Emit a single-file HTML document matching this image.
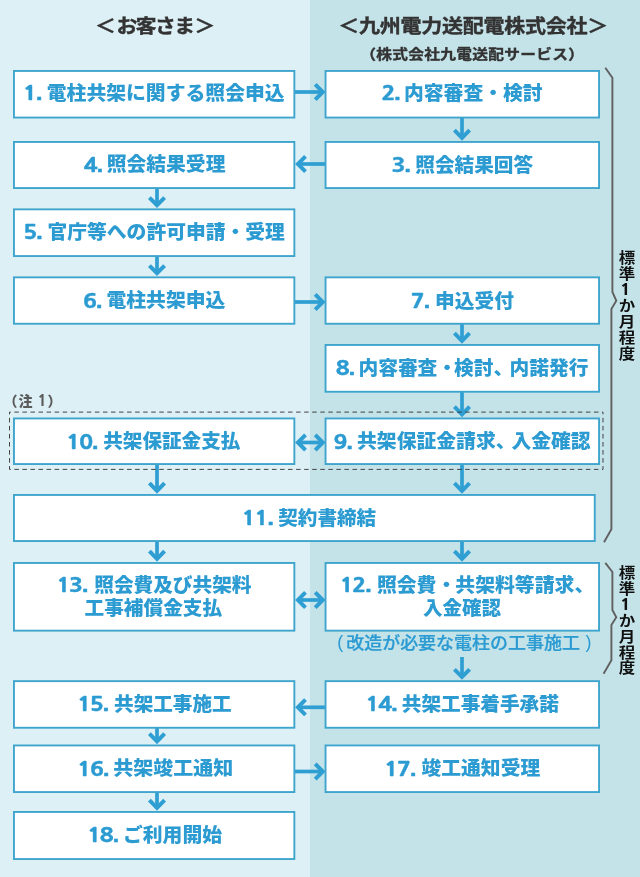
<!DOCTYPE html>
<html lang="ja">
<head>
<meta charset="utf-8">
<title>電柱共架の手続きの流れ</title>
<style>
html,body{margin:0;padding:0;background:#ddf0f6;}
body{width:640px;height:877px;overflow:hidden;}
svg{display:block;will-change:transform;}
svg text{font-family:"Liberation Sans","Noto Sans CJK JP",sans-serif;}
svg .n{font-family:"NanumGothic","Liberation Sans",sans-serif;}
</style>
</head>
<body>
<svg width="640" height="877" viewBox="0 0 640 877">
<rect x="0" y="0" width="640" height="877" fill="#ddf0f6"/>
<rect x="310" y="0" width="330" height="877" fill="#c4e3e9"/>
<text transform="translate(154.4,32.7) scale(1.095,1)" text-anchor="middle" fill="#333333" stroke="#333333" font-size="19" font-weight="700" stroke-width="0.4" letter-spacing="-1.43"><tspan letter-spacing="0.55">＜</tspan>お客さ<tspan letter-spacing="-0.4">ま</tspan>＞</text>
<text transform="translate(473.2,32.7) scale(1.105,1)" text-anchor="middle" fill="#333333" stroke="#333333" font-size="19" font-weight="700" stroke-width="0.4" letter-spacing="-0.22">＜九州電力送配電株式会社＞</text>
<text transform="translate(472.2,58.6) scale(1.125,1)" text-anchor="middle" fill="#333333" stroke="#333333" font-size="14" font-weight="700" stroke-width="0.35" letter-spacing="0.23">（株式会社九電送配サービス）</text>
<line x1="294.3" y1="92" x2="322.8" y2="92" stroke="#2f9fd3" stroke-width="3.7"/>
<polyline points="315.2,84.4 322.8,92 315.2,99.6" fill="none" stroke="#2f9fd3" stroke-width="4.0" stroke-linejoin="miter"/>
<line x1="462" y1="117.5" x2="462" y2="137.8" stroke="#2f9fd3" stroke-width="3.7"/>
<polyline points="454.4,130.2 462,137.8 469.6,130.2" fill="none" stroke="#2f9fd3" stroke-width="4.0" stroke-linejoin="miter"/>
<line x1="297.9" y1="164" x2="326.4" y2="164" stroke="#2f9fd3" stroke-width="3.7"/>
<polyline points="305.5,156.4 297.9,164 305.5,171.6" fill="none" stroke="#2f9fd3" stroke-width="4.0" stroke-linejoin="miter"/>
<line x1="157" y1="188" x2="157" y2="205.2" stroke="#2f9fd3" stroke-width="3.7"/>
<polyline points="149.4,197.6 157,205.2 164.6,197.6" fill="none" stroke="#2f9fd3" stroke-width="4.0" stroke-linejoin="miter"/>
<line x1="157" y1="256" x2="157" y2="273.2" stroke="#2f9fd3" stroke-width="3.7"/>
<polyline points="149.4,265.6 157,273.2 164.6,265.6" fill="none" stroke="#2f9fd3" stroke-width="4.0" stroke-linejoin="miter"/>
<line x1="294.3" y1="302" x2="322.8" y2="302" stroke="#2f9fd3" stroke-width="3.7"/>
<polyline points="315.2,294.4 322.8,302 315.2,309.6" fill="none" stroke="#2f9fd3" stroke-width="4.0" stroke-linejoin="miter"/>
<line x1="462" y1="323.7" x2="462" y2="340.8" stroke="#2f9fd3" stroke-width="3.7"/>
<polyline points="454.4,333.2 462,340.8 469.6,333.2" fill="none" stroke="#2f9fd3" stroke-width="4.0" stroke-linejoin="miter"/>
<line x1="462" y1="391.7" x2="462" y2="414.3" stroke="#2f9fd3" stroke-width="3.7"/>
<polyline points="454.4,406.7 462,414.3 469.6,406.7" fill="none" stroke="#2f9fd3" stroke-width="4.0" stroke-linejoin="miter"/>
<line x1="297.9" y1="442.5" x2="322.8" y2="442.5" stroke="#2f9fd3" stroke-width="3.7"/>
<polyline points="315.2,434.9 322.8,442.5 315.2,450.1" fill="none" stroke="#2f9fd3" stroke-width="4.0" stroke-linejoin="miter"/>
<polyline points="305.5,434.9 297.9,442.5 305.5,450.1" fill="none" stroke="#2f9fd3" stroke-width="4.0" stroke-linejoin="miter"/>
<line x1="157" y1="464" x2="157" y2="490.8" stroke="#2f9fd3" stroke-width="3.7"/>
<polyline points="149.4,483.2 157,490.8 164.6,483.2" fill="none" stroke="#2f9fd3" stroke-width="4.0" stroke-linejoin="miter"/>
<line x1="462" y1="464" x2="462" y2="490.8" stroke="#2f9fd3" stroke-width="3.7"/>
<polyline points="454.4,483.2 462,490.8 469.6,483.2" fill="none" stroke="#2f9fd3" stroke-width="4.0" stroke-linejoin="miter"/>
<line x1="157" y1="541" x2="157" y2="558.8" stroke="#2f9fd3" stroke-width="3.7"/>
<polyline points="149.4,551.2 157,558.8 164.6,551.2" fill="none" stroke="#2f9fd3" stroke-width="4.0" stroke-linejoin="miter"/>
<line x1="462" y1="541" x2="462" y2="558.8" stroke="#2f9fd3" stroke-width="3.7"/>
<polyline points="454.4,551.2 462,558.8 469.6,551.2" fill="none" stroke="#2f9fd3" stroke-width="4.0" stroke-linejoin="miter"/>
<line x1="297.9" y1="600" x2="322.8" y2="600" stroke="#2f9fd3" stroke-width="3.7"/>
<polyline points="315.2,592.4 322.8,600 315.2,607.6" fill="none" stroke="#2f9fd3" stroke-width="4.0" stroke-linejoin="miter"/>
<polyline points="305.5,592.4 297.9,600 305.5,607.6" fill="none" stroke="#2f9fd3" stroke-width="4.0" stroke-linejoin="miter"/>
<line x1="462" y1="657" x2="462" y2="677.0" stroke="#2f9fd3" stroke-width="3.7"/>
<polyline points="454.4,669.4 462,677.0 469.6,669.4" fill="none" stroke="#2f9fd3" stroke-width="4.0" stroke-linejoin="miter"/>
<line x1="297.9" y1="707.3" x2="326.4" y2="707.3" stroke="#2f9fd3" stroke-width="3.7"/>
<polyline points="305.5,699.7 297.9,707.3 305.5,714.9" fill="none" stroke="#2f9fd3" stroke-width="4.0" stroke-linejoin="miter"/>
<line x1="157" y1="727.7" x2="157" y2="741.3" stroke="#2f9fd3" stroke-width="3.7"/>
<polyline points="149.4,733.7 157,741.3 164.6,733.7" fill="none" stroke="#2f9fd3" stroke-width="4.0" stroke-linejoin="miter"/>
<line x1="294.3" y1="771.5" x2="322.8" y2="771.5" stroke="#2f9fd3" stroke-width="3.7"/>
<polyline points="315.2,763.9 322.8,771.5 315.2,779.1" fill="none" stroke="#2f9fd3" stroke-width="4.0" stroke-linejoin="miter"/>
<line x1="157" y1="792" x2="157" y2="807.8" stroke="#2f9fd3" stroke-width="3.7"/>
<polyline points="149.4,800.2 157,807.8 164.6,800.2" fill="none" stroke="#2f9fd3" stroke-width="4.0" stroke-linejoin="miter"/>
<path d="M9.5 412.1H603.0" fill="none" stroke="#3a3a3a" stroke-width="0.95" stroke-dasharray="4.55 3.5" stroke-dashoffset="3.2"/>
<path d="M9.5 469.4H603.0" fill="none" stroke="#3a3a3a" stroke-width="0.95" stroke-dasharray="4.55 3.5" stroke-dashoffset="3.2"/>
<path d="M9.5 412.1V469.4" fill="none" stroke="#3a3a3a" stroke-width="0.95" stroke-dasharray="4.55 3.5" stroke-dashoffset="2.3"/>
<path d="M603.0 412.1V469.4" fill="none" stroke="#3a3a3a" stroke-width="0.95" stroke-dasharray="4.55 3.5" stroke-dashoffset="2.3"/>
<rect x="13.95" y="70.95" width="280.40" height="46.60" fill="#fff" stroke="#3fa5cd" stroke-width="1.9"/>
<text transform="translate(23.04,100.40) scale(1.18,1)" fill="#2b9bd2" stroke="#2b9bd2" stroke-width="0.4" stroke-linejoin="round"><tspan class="n" font-size="19.4" font-weight="800" letter-spacing="-1">1</tspan><tspan font-size="21" font-weight="700">.</tspan></text>
<text transform="translate(46.76,100.00) scale(1.0442,1)" fill="#2b9bd2" font-size="19" font-weight="900" >電柱共架に関する照会申込</text>
<rect x="325.55" y="70.95" width="273.50" height="46.60" fill="#fff" stroke="#3fa5cd" stroke-width="1.9"/>
<text transform="translate(381.41,100.40) scale(1.18,1)" fill="#2b9bd2" stroke="#2b9bd2" stroke-width="0.4" stroke-linejoin="round"><tspan class="n" font-size="19.4" font-weight="800" letter-spacing="-1">2</tspan><tspan font-size="21" font-weight="700">.</tspan></text>
<text transform="translate(404.04,100.00) scale(1.0420,1)" fill="#2b9bd2" font-size="19" font-weight="900" >内容審査・検討</text>
<rect x="13.95" y="141.95" width="280.40" height="46.10" fill="#fff" stroke="#3fa5cd" stroke-width="1.9"/>
<text transform="translate(83.86,171.80) scale(1.18,1)" fill="#2b9bd2" stroke="#2b9bd2" stroke-width="0.4" stroke-linejoin="round"><tspan class="n" font-size="19.4" font-weight="800" letter-spacing="-1">4</tspan><tspan font-size="21" font-weight="700">.</tspan></text>
<text transform="translate(106.72,171.40) scale(1.0421,1)" fill="#2b9bd2" font-size="19" font-weight="900" >照会結果受理</text>
<rect x="325.55" y="141.95" width="273.50" height="46.10" fill="#fff" stroke="#3fa5cd" stroke-width="1.9"/>
<text transform="translate(391.52,171.90) scale(1.18,1)" fill="#2b9bd2" stroke="#2b9bd2" stroke-width="0.4" stroke-linejoin="round"><tspan class="n" font-size="19.4" font-weight="800" letter-spacing="-1">3</tspan><tspan font-size="21" font-weight="700">.</tspan></text>
<text transform="translate(415.22,171.50) scale(1.0350,1)" fill="#2b9bd2" font-size="19" font-weight="900" >照会結果回答</text>
<rect x="13.95" y="209.35" width="280.40" height="46.70" fill="#fff" stroke="#3fa5cd" stroke-width="1.9"/>
<text transform="translate(23.33,238.90) scale(1.18,1)" fill="#2b9bd2" stroke="#2b9bd2" stroke-width="0.4" stroke-linejoin="round"><tspan class="n" font-size="19.4" font-weight="800" letter-spacing="-1">5</tspan><tspan font-size="21" font-weight="700">.</tspan></text>
<text transform="translate(47.45,238.50) scale(1.0420,1)" fill="#2b9bd2" font-size="19" font-weight="900" >官庁等への許可申請・受理</text>
<rect x="13.95" y="277.35" width="280.40" height="46.40" fill="#fff" stroke="#3fa5cd" stroke-width="1.9"/>
<text transform="translate(82.97,307.60) scale(1.18,1)" fill="#2b9bd2" stroke="#2b9bd2" stroke-width="0.4" stroke-linejoin="round"><tspan class="n" font-size="19.4" font-weight="800" letter-spacing="-1">6</tspan><tspan font-size="21" font-weight="700">.</tspan></text>
<text transform="translate(106.46,307.20) scale(1.0444,1)" fill="#2b9bd2" font-size="19" font-weight="900" >電柱共架申込</text>
<rect x="325.55" y="277.35" width="273.50" height="46.40" fill="#fff" stroke="#3fa5cd" stroke-width="1.9"/>
<text transform="translate(410.82,307.90) scale(1.18,1)" fill="#2b9bd2" stroke="#2b9bd2" stroke-width="0.4" stroke-linejoin="round"><tspan class="n" font-size="19.4" font-weight="800" letter-spacing="-1">7</tspan><tspan font-size="21" font-weight="700">.</tspan></text>
<text transform="translate(434.98,307.50) scale(1.0386,1)" fill="#2b9bd2" font-size="19" font-weight="900" >申込受付</text>
<rect x="325.55" y="344.95" width="273.50" height="46.80" fill="#fff" stroke="#3fa5cd" stroke-width="1.9"/>
<text transform="translate(335.71,375.00) scale(1.18,1)" fill="#2b9bd2" stroke="#2b9bd2" stroke-width="0.4" stroke-linejoin="round"><tspan class="n" font-size="19.4" font-weight="800" letter-spacing="-1">8</tspan><tspan font-size="21" font-weight="700">.</tspan></text>
<text transform="translate(358.44,374.60) scale(1.0392,1)" fill="#2b9bd2" font-size="19" font-weight="900" >内容審査<tspan letter-spacing="-3">・</tspan>検討<tspan letter-spacing="-3.5">、</tspan>内諾発行</text>
<rect x="13.95" y="418.45" width="280.40" height="45.60" fill="#fff" stroke="#3fa5cd" stroke-width="1.9"/>
<text transform="translate(66.34,448.80) scale(1.18,1)" fill="#2b9bd2" stroke="#2b9bd2" stroke-width="0.4" stroke-linejoin="round"><tspan class="n" font-size="19.4" font-weight="800" letter-spacing="-1">10</tspan><tspan font-size="21" font-weight="700">.</tspan></text>
<text transform="translate(103.23,448.40) scale(1.0318,1)" fill="#2b9bd2" font-size="19" font-weight="900" >共架保証金支払</text>
<rect x="325.55" y="418.45" width="273.50" height="45.60" fill="#fff" stroke="#3fa5cd" stroke-width="1.9"/>
<text transform="translate(333.62,448.60) scale(1.18,1)" fill="#2b9bd2" stroke="#2b9bd2" stroke-width="0.4" stroke-linejoin="round"><tspan class="n" font-size="19.4" font-weight="800" letter-spacing="-1">9</tspan><tspan font-size="21" font-weight="700">.</tspan></text>
<text transform="translate(357.02,448.20) scale(1.0435,1)" fill="#2b9bd2" font-size="19" font-weight="900" >共架保証金請求<tspan letter-spacing="-4">、</tspan>入金確認</text>
<rect x="13.95" y="494.95" width="580.80" height="46.10" fill="#fff" stroke="#3fa5cd" stroke-width="1.9"/>
<text transform="translate(241.79,524.90) scale(1.18,1)" fill="#2b9bd2" stroke="#2b9bd2" stroke-width="0.4" stroke-linejoin="round"><tspan class="n" font-size="19.4" font-weight="800" letter-spacing="-1">11</tspan><tspan font-size="21" font-weight="700">.</tspan></text>
<text transform="translate(278.23,524.50) scale(1.0319,1)" fill="#2b9bd2" font-size="19" font-weight="900" >契約書締結</text>
<rect x="13.95" y="562.95" width="280.40" height="67.70" fill="#fff" stroke="#3fa5cd" stroke-width="1.9"/>
<text transform="translate(56.44,592.00) scale(1.18,1)" fill="#2b9bd2" stroke="#2b9bd2" stroke-width="0.4" stroke-linejoin="round"><tspan class="n" font-size="19.4" font-weight="800" letter-spacing="-1">13</tspan><tspan font-size="21" font-weight="700">.</tspan></text>
<text transform="translate(94.22,591.60) scale(1.0351,1)" fill="#2b9bd2" font-size="19" font-weight="900" >照会費及び共架料</text>
<text transform="translate(84.52,615.20) scale(1.0348,1)" fill="#2b9bd2" font-size="19" font-weight="900" >工事補償金支払</text>
<rect x="325.55" y="562.95" width="273.50" height="67.70" fill="#fff" stroke="#3fa5cd" stroke-width="1.9"/>
<text transform="translate(339.64,591.90) scale(1.18,1)" fill="#2b9bd2" stroke="#2b9bd2" stroke-width="0.4" stroke-linejoin="round"><tspan class="n" font-size="19.4" font-weight="800" letter-spacing="-1">12</tspan><tspan font-size="21" font-weight="700">.</tspan></text>
<text transform="translate(376.92,591.50) scale(1.0458,1)" fill="#2b9bd2" font-size="19" font-weight="900" >照会費<tspan letter-spacing="-1">・</tspan>共架料等請求、</text>
<text transform="translate(423.09,615.00) scale(1.0272,1)" fill="#2b9bd2" font-size="19" font-weight="900" >入金確認</text>
<text transform="translate(346.22,648.90) scale(1.0275,1)" fill="#2b9bd2" font-size="17.5" font-weight="500" stroke-width="0.25" stroke="#2b9bd2">改造が必要な電柱の工事施工</text>
<text transform="translate(337.30,648.00) scale(1.0000,1)" fill="#2b9bd2" font-size="18" font-weight="400" >(</text>
<text transform="translate(585.55,648.00) scale(1.0000,1)" fill="#2b9bd2" font-size="18" font-weight="400" >)</text>
<rect x="13.95" y="681.15" width="280.40" height="46.60" fill="#fff" stroke="#3fa5cd" stroke-width="1.9"/>
<text transform="translate(77.14,711.15) scale(1.18,1)" fill="#2b9bd2" stroke="#2b9bd2" stroke-width="0.4" stroke-linejoin="round"><tspan class="n" font-size="19.4" font-weight="800" letter-spacing="-1">15</tspan><tspan font-size="21" font-weight="700">.</tspan></text>
<text transform="translate(114.03,710.75) scale(1.0329,1)" fill="#2b9bd2" font-size="19" font-weight="900" >共架工事施工</text>
<rect x="325.55" y="681.15" width="273.50" height="46.60" fill="#fff" stroke="#3fa5cd" stroke-width="1.9"/>
<text transform="translate(365.54,711.15) scale(1.18,1)" fill="#2b9bd2" stroke="#2b9bd2" stroke-width="0.4" stroke-linejoin="round"><tspan class="n" font-size="19.4" font-weight="800" letter-spacing="-1">14</tspan><tspan font-size="21" font-weight="700">.</tspan></text>
<text transform="translate(401.82,710.75) scale(1.0335,1)" fill="#2b9bd2" font-size="19" font-weight="900" >共架工事着手承諾</text>
<rect x="13.95" y="745.45" width="280.40" height="46.60" fill="#fff" stroke="#3fa5cd" stroke-width="1.9"/>
<text transform="translate(77.34,775.70) scale(1.18,1)" fill="#2b9bd2" stroke="#2b9bd2" stroke-width="0.4" stroke-linejoin="round"><tspan class="n" font-size="19.4" font-weight="800" letter-spacing="-1">16</tspan><tspan font-size="21" font-weight="700">.</tspan></text>
<text transform="translate(113.21,775.30) scale(1.0523,1)" fill="#2b9bd2" font-size="19" font-weight="900" >共架竣工通知</text>
<rect x="325.55" y="745.45" width="273.50" height="46.60" fill="#fff" stroke="#3fa5cd" stroke-width="1.9"/>
<text transform="translate(384.34,775.80) scale(1.18,1)" fill="#2b9bd2" stroke="#2b9bd2" stroke-width="0.4" stroke-linejoin="round"><tspan class="n" font-size="19.4" font-weight="800" letter-spacing="-1">17</tspan><tspan font-size="21" font-weight="700">.</tspan></text>
<text transform="translate(421.48,775.40) scale(1.0425,1)" fill="#2b9bd2" font-size="19" font-weight="900" >竣工通知受理</text>
<rect x="13.95" y="811.95" width="280.40" height="47.10" fill="#fff" stroke="#3fa5cd" stroke-width="1.9"/>
<text transform="translate(87.14,842.30) scale(1.18,1)" fill="#2b9bd2" stroke="#2b9bd2" stroke-width="0.4" stroke-linejoin="round"><tspan class="n" font-size="19.4" font-weight="800" letter-spacing="-1">18</tspan><tspan font-size="21" font-weight="700">.</tspan></text>
<text transform="translate(122.95,841.90) scale(1.0432,1)" fill="#2b9bd2" font-size="19" font-weight="900" >ご利用開始</text>
<text y="406" font-size="14" font-weight="900" fill="#5c5c5c"><tspan x="3.4">（</tspan><tspan x="18.6">注</tspan> <tspan x="37.4" class="n" font-weight="800" font-size="15.5">1</tspan><tspan x="47.4">）</tspan></text>
<path d="M605.3 67.8 L612.4 77.8 L612.4 292 L616.3 300.8 L611.4 309 L611.4 529.3 L604 542.3" fill="none" stroke="#606060" stroke-width="1.9"/>
<path d="M605.3 562.8 L612.4 572 L612.4 610 L616.3 617.2 L611.4 625 L611.4 660.3 L603.6 673.8" fill="none" stroke="#606060" stroke-width="1.9"/>
<text transform="translate(625.4,250.8) scale(1.03,0.9)" font-size="16" font-weight="700" fill="#111" style="writing-mode:vertical-rl;text-orientation:upright" letter-spacing="1.6">標準<tspan class="n" font-weight="800" font-size="17.5">1</tspan>か月程度</text>
<text transform="translate(625.4,565.2) scale(1.03,0.9)" font-size="16" font-weight="700" fill="#111" style="writing-mode:vertical-rl;text-orientation:upright" letter-spacing="1.6">標準<tspan class="n" font-weight="800" font-size="17.5">1</tspan>か月程度</text>
</svg>
</body>
</html>
